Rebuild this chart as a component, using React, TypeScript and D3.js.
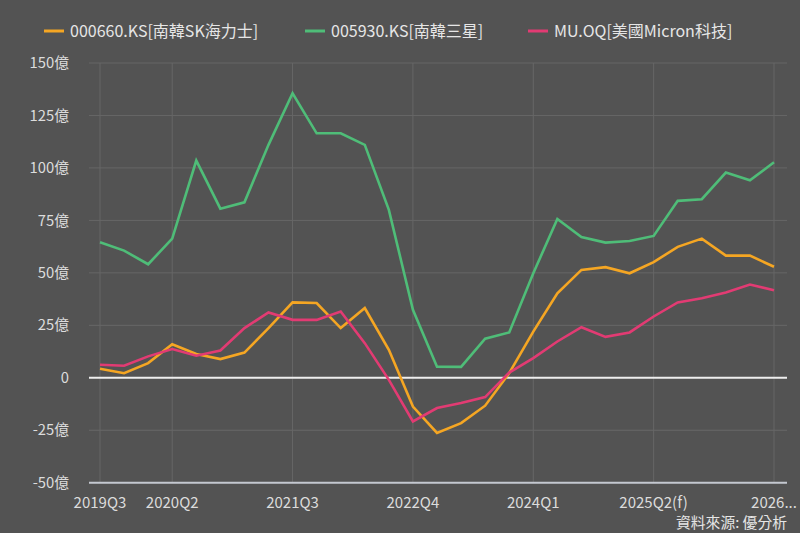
import React from "react";
import * as d3 from "d3";

const quarters: string[] = [
  "2019Q3","2019Q4","2020Q1","2020Q2","2020Q3","2020Q4","2021Q1","2021Q2","2021Q3","2021Q4",
  "2022Q1","2022Q2","2022Q3","2022Q4","2023Q1","2023Q2","2023Q3","2023Q4","2024Q1","2024Q2",
  "2024Q3","2024Q4","2025Q1","2025Q2(f)","2025Q3(f)","2025Q4(f)","2026Q1(f)","2026Q2(f)","2026Q3(f)",
];

const skHynix: number[] = [
  4.3, 2.2, 7, 16, 11.3, 8.9, 12, 23.7, 35.9, 35.6,
  23.7, 33.2, 13.3, -13.7, -26.3, -21.6, -13.3, 2.2, 22, 40.3,
  51.4, 52.7, 49.8, 55.1, 62.4, 66.3, 58.2, 58.2, 52.9,
];

const samsung: number[] = [
  64.6, 60.6, 54.1, 66.3, 103.5, 80.6, 83.6, 111, 135.6, 116.5,
  116.5, 111, 80, 32.4, 5.3, 5.2, 18.6, 21.6, 49.8, 75.7,
  67.1, 64.4, 65.2, 67.6, 84.3, 85.1, 97.8, 94.1, 102.7,
];

const micron: number[] = [
  6.2, 5.7, 10.2, 13.7, 10.5, 13, 23.7, 31.1, 27.6, 27.6,
  31.6, 16.5, -1, -20.8, -14.4, -12, -9.2, 2.5, 9.4, 17.3,
  24.1, 19.5, 21.6, 29.2, 35.9, 37.9, 40.6, 44.4, 41.7,
];

const seriesNames: string[] = ["000660.KS[南韓SK海力士]", "005930.KS[南韓三星]", "MU.OQ[美國Micron科技]"];
const seriesColors: string[] = ["#f5a623", "#4fbd78", "#e23b73"];
const yTicks: number[] = [-50, -25, 0, 25, 50, 75, 100, 125, 150];
const xTickIdx: number[] = [0, 3, 8, 13, 18, 23, 28];
const sourceText = "資料來源: 優分析";

const W = 800;
const H = 533;
const FONT = "'Noto Sans CJK TC', 'Noto Sans', sans-serif";

export default function App() {
  const x = d3.scaleLinear().domain([0, quarters.length - 1]).range([100, 774]);
  const y = d3.scaleLinear().domain([-50, 150]).range([482.7, 63]);
  const plotLeft = 89;
  const plotRight = 787;
  const line = d3
    .line<number>()
    .x((_, i) => x(i))
    .y((v) => y(v));
  const allSeries = [skHynix, samsung, micron];
  const legendX = [44, 305, 528];

  const tickLabel = (i: number) => {
    const s = quarters[i];
    return i === quarters.length - 1 ? s.slice(0, 4) + "..." : s;
  };

  return (
    <svg
      width={W}
      height={H}
      style={{ position: "absolute", left: 0, top: 0, display: "block" }}
      fontFamily={FONT}
    >
      <rect x={0} y={0} width={W} height={H} fill="#535353" />
      {/* legend */}
      {seriesNames.map((n, k) => (
        <g key={n}>
          <line x1={legendX[k]} x2={legendX[k] + 20} y1={31} y2={31} stroke={seriesColors[k]} strokeWidth={3} />
          <text x={legendX[k] + 26} y={31} dy="0.35em" fill="#e6e6e6" fontSize={16}>
            {n}
          </text>
        </g>
      ))}
      {/* horizontal grid */}
      {yTicks.map((t) => (
        <g key={t}>
          {t !== 0 && t !== -50 && (
            <line x1={plotLeft} x2={plotRight} y1={y(t)} y2={y(t)} stroke="#676767" strokeWidth={1} />
          )}
          <text x={69} y={y(t)} dy="0.35em" textAnchor="end" fill="#dcdcdc" fontSize={14.8}>
            {t === 0 ? "0" : `${t}億`}
          </text>
        </g>
      ))}
      {/* vertical grid */}
      {xTickIdx.map((i) => (
        <g key={i}>
          <line x1={x(i)} x2={x(i)} y1={y(150)} y2={y(-50)} stroke="#676767" strokeWidth={1} />
          <text x={x(i)} y={503} dy="0.35em" textAnchor="middle" fill="#dcdcdc" fontSize={15}>
            {tickLabel(i)}
          </text>
        </g>
      ))}
      {/* axis lines */}
      <line x1={plotLeft} x2={plotRight} y1={y(-50)} y2={y(-50)} stroke="#c4c8d0" strokeWidth={2} />
      <line x1={plotLeft} x2={plotRight} y1={y(0)} y2={y(0)} stroke="#eeeeee" strokeWidth={2} />
      {/* series */}
      {allSeries.map((s, k) => (
        <path key={k} d={line(s) || ""} fill="none" stroke={seriesColors[k]} strokeWidth={2.6} strokeLinejoin="miter" />
      ))}
      <text x={787} y={523} dy="0.35em" textAnchor="end" fill="#e6e6e6" fontSize={14.8}>
        {sourceText}
      </text>
    </svg>
  );
}
